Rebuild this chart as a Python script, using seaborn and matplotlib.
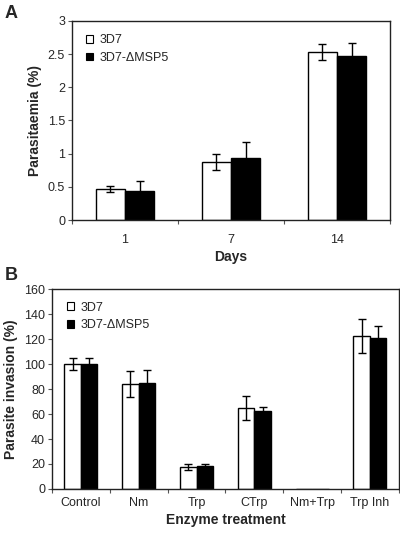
import numpy as np
import pandas as pd
import matplotlib
matplotlib.use('Agg')
import matplotlib.pyplot as plt
import seaborn as sns
from matplotlib.patches import Patch

# Panel A data
days = ['1', '7', '14']
strains = ['3D7', '3D7-ΔMSP5']
para_3d7 = [0.47, 0.87, 2.53]
para_3d7_err = [0.05, 0.12, 0.12]
para_ko = [0.44, 0.94, 2.47]
para_ko_err = [0.15, 0.23, 0.20]

# Panel B data
treatments = ['Control', 'Nm', 'Trp', 'CTrp', 'Nm+Trp', 'Trp Inh']
inv_3d7 = [100, 84, 17.3, 65, 0, 122.4]
inv_3d7_err = [5, 10.5, 2.3, 9.5, 0, 13.6]
inv_ko = [100, 85, 18.7, 62.4, 0, 120.8]
inv_ko_err = [5, 10.5, 1.6, 3, 0, 9.3]

sns.set_theme(style='white')
plt.rcParams['font.family'] = ['Liberation Sans', 'DejaVu Sans']

fig = plt.figure(figsize=(4, 5.33), dpi=100)
ax_a = fig.add_axes([0.18, 0.587, 0.795, 0.374])
ax_b = fig.add_axes([0.13, 0.0826, 0.867, 0.375])


def grouped_bars(ax, cats, v1, e1, v2, e2, xname, width, leg_y, xpad):
    df = pd.DataFrame({
        xname: cats * 2,
        'value': v1 + v2,
        'strain': [strains[0]] * len(cats) + [strains[1]] * len(cats),
    })
    sns.barplot(data=df, x=xname, y='value', hue='strain', order=cats,
                hue_order=strains, palette=['white', 'black'],
                edgecolor='black', linewidth=1.0, errorbar=None,
                width=width, gap=0, ax=ax, legend=False)
    # error bars on bar centres
    n = len(cats)
    patches = ax.patches[:2 * n]
    xs = [p.get_x() + p.get_width() / 2 for p in patches]
    ys = v1 + v2
    es = e1 + e2
    for x, y, e in zip(xs, ys, es):
        if y == 0:
            continue
        ax.errorbar(x, y, yerr=e, color='black', lw=1.0, capsize=3,
                    capthick=1.0, zorder=5)
    ax.set_xlim(-0.5, n - 0.5)
    ax.tick_params(axis='x', which='major', length=0, labelsize=9, pad=xpad)
    ax.set_xticks(np.arange(-0.5, n, 1.0), minor=True)
    ax.tick_params(axis='x', which='minor', length=3, width=0.8,
                   direction='out', color='#555555', bottom=True)
    ax.tick_params(axis='y', length=3, width=0.8, direction='out',
                   color='#555555', left=True, labelsize=9, pad=2)
    for s in ax.spines.values():
        s.set_visible(True)
        s.set_color('#222222')
        s.set_linewidth(1.0)
    handles = [Patch(facecolor='white', edgecolor='black', lw=0.8),
               Patch(facecolor='black', edgecolor='black', lw=0.8)]
    ax.legend(handles, strains, loc='upper left', frameon=False,
              fontsize=9, handlelength=0.6, handleheight=0.6,
              handletextpad=0.5, labelspacing=0.45, borderaxespad=0,
              borderpad=0.2, bbox_to_anchor=(0.035, leg_y))


grouped_bars(ax_a, days, para_3d7, para_3d7_err, para_ko, para_ko_err,
             'day', 0.55, 0.945, 10)
ax_a.set_ylim(0, 3)
ax_a.set_yticks([0, 0.5, 1, 1.5, 2, 2.5, 3])
ax_a.set_yticklabels(['0', '0.5', '1', '1.5', '2', '2.5', '3'])
ax_a.set_xlabel('Days', fontsize=10, fontweight='bold', labelpad=3)
ax_a.set_ylabel('Parasitaemia (%)', fontsize=10, fontweight='bold', labelpad=4)

grouped_bars(ax_b, treatments, inv_3d7, inv_3d7_err, inv_ko, inv_ko_err,
             'treatment', 0.57, 0.95, 6)
ax_b.set_ylim(0, 160)
ax_b.set_yticks(range(0, 161, 20))
ax_b.set_xlabel('Enzyme treatment', fontsize=10, fontweight='bold', labelpad=3)
ax_b.set_ylabel('Parasite invasion (%)', fontsize=10, fontweight='bold', labelpad=4)

fig.text(0.012, 0.975, 'A', fontsize=13, fontweight='bold', va='center')
fig.text(0.012, 0.483, 'B', fontsize=13, fontweight='bold', va='center')

fig.savefig('out.png', dpi=100)
